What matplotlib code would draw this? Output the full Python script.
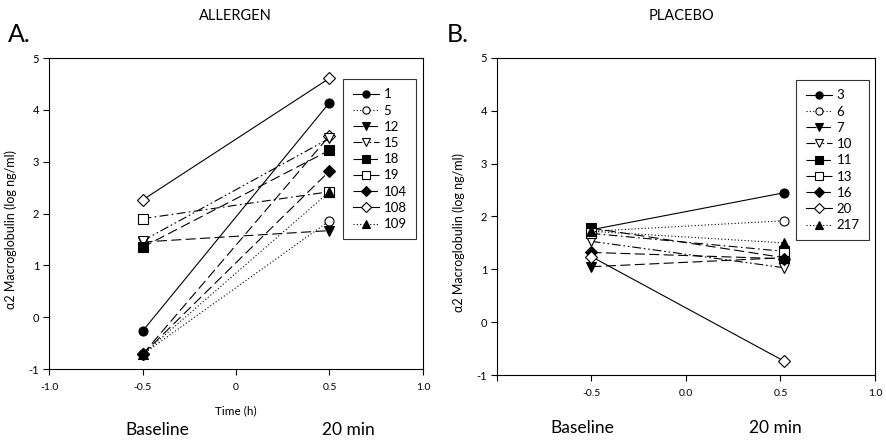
import matplotlib
matplotlib.use("Agg")
import matplotlib.pyplot as plt

plt.rcParams['font.family'] = ['Lato', 'DejaVu Sans']

# ---------------- data ----------------
time_points = [-0.5, 0.5]

allergen_ids = ["1", "5", "12", "15", "18", "19", "104", "108", "109"]
allergen_base = [-0.27, -0.72, 1.45, 1.47, 1.35, 1.90, -0.72, 2.26, -0.72]
allergen_20min = [4.14, 1.86, 1.67, 3.45, 3.22, 2.42, 2.82, 4.61, 2.42]
# additional trace visible in the plot but not in the legend
allergen_extra_base = [-0.72]
allergen_extra_20min = [3.50]

placebo_ids = ["3", "6", "7", "10", "11", "13", "16", "20", "217"]
placebo_base = [1.75, 1.72, 1.05, 1.53, 1.78, 1.68, 1.32, 1.24, 1.72]
placebo_20min = [2.45, 1.92, 1.22, 1.03, 1.22, 1.34, 1.20, -0.74, 1.50]

a_xticks = [-1.0, -0.5, 0.0, 0.5, 1.0]
a_xticklabels = ["-1.0", "-0.5", "0", "0.5", "1.0"]
b_xticks = [-1.0, -0.5, 0.0, 0.5, 1.0]
b_xticklabels = ["", "-0.5", "0.0", "0.5", "1.0"]
yticks = [-1, 0, 1, 2, 3, 4, 5]

# styles (marker, filled, linestyle)
dash_long = (0, (9, 4))
dashdot = (0, (8, 3, 1.5, 3))
dashdotdot = (0, (8, 2.5, 1.5, 2.5, 1.5, 2.5))
dotted = (0, (1, 2))
styles = [
    ('o', True, '-'),
    ('o', False, dotted),
    ('v', True, dash_long),
    ('v', False, dashdotdot),
    ('s', True, dash_long),
    ('s', False, dashdot),
    ('D', True, dash_long),
    ('D', False, '-'),
    ('^', True, dotted),
]

fig = plt.figure(figsize=(8.87, 4.43), dpi=100)
axA = fig.add_axes([49 / 887, 1 - 369 / 443, 374 / 887, 311 / 443])
axB = fig.add_axes([497 / 887, 1 - 375 / 443, 378 / 887, 317 / 443])


def draw(ax, ids, base, post, xoff):
    for i, lab in enumerate(ids):
        m, filled, ls = styles[i]
        ms = 6.5 if m != 'D' else 6
        ax.plot([time_points[0], time_points[1] + xoff], [base[i], post[i]],
                color='black', linestyle=ls, linewidth=0.8, marker=m,
                markersize=ms, markerfacecolor='black' if filled else 'white',
                markeredgecolor='black', markeredgewidth=0.8, label=lab)


draw(axA, allergen_ids, allergen_base, allergen_20min, 0.0)
for b, p in zip(allergen_extra_base, allergen_extra_20min):
    axA.plot(time_points, [b, p], color='black', linestyle=dash_long,
             linewidth=0.8, marker='D', markersize=6, markerfacecolor='white',
             markeredgecolor='black', markeredgewidth=0.8, label='_nolegend_',
             zorder=1.9)
draw(axB, placebo_ids, placebo_base, placebo_20min, 0.02)

for ax, xt, xl, anchor in [(axA, a_xticks, a_xticklabels, (0.981, 0.932)),
                           (axB, b_xticks, b_xticklabels, (0.984, 0.930))]:
    ax.set_xlim(-1.0, 1.0)
    ax.set_ylim(-1, 5)
    ax.set_xticks(xt)
    ax.set_xticklabels(xl, fontsize=7.5)
    ax.set_yticks(yticks)
    ax.set_yticklabels([str(v) for v in yticks], fontsize=8)
    ax.tick_params(direction='out', length=4, width=0.8, pad=6)
    ax.tick_params(axis='y', pad=3)
    for s in ax.spines.values():
        s.set_linewidth(0.8)
    ax.set_ylabel("α2 Macroglobulin (log ng/ml)", fontsize=9, labelpad=8)
    ax.yaxis.set_label_coords(-0.085, 0.45)
    leg = ax.legend(loc='upper right', bbox_to_anchor=anchor, fontsize=9.5,
                    frameon=True, fancybox=False, edgecolor='black',
                    handlelength=2.0, handletextpad=0.35, labelspacing=0.32,
                    borderpad=0.7, borderaxespad=0.0, markerscale=0.8)
    leg.get_frame().set_linewidth(0.8)

axA.set_xlabel("Time (h)", fontsize=8.5, labelpad=10)

# titles and panel letters
fig.text(235 / 887, 1 - 16 / 443, "ALLERGEN", ha='center', va='center', fontsize=10.5)
fig.text(682 / 887, 1 - 16 / 443, "PLACEBO", ha='center', va='center', fontsize=10.5)
fig.text(8 / 887, 1 - 35 / 443, "A.", ha='left', va='center', fontsize=18)
fig.text(447 / 887, 1 - 35 / 443, "B.", ha='left', va='center', fontsize=18)

# time-point captions
fig.text(157 / 887, 1 - 430 / 443, "Baseline", ha='center', va='center', fontsize=12.5)
fig.text(348 / 887, 1 - 430 / 443, "20 min", ha='center', va='center', fontsize=12.5)
fig.text(582 / 887, 1 - 428 / 443, "Baseline", ha='center', va='center', fontsize=12.5)
fig.text(775 / 887, 1 - 428 / 443, "20 min", ha='center', va='center', fontsize=12.5)

fig.savefig("out.png", dpi=100)
